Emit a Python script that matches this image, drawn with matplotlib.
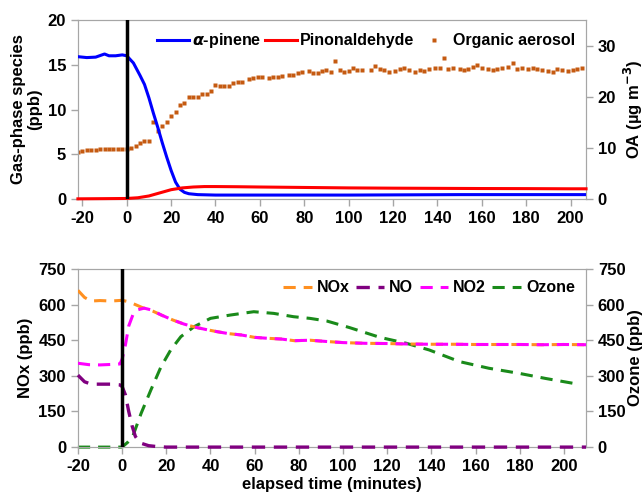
import numpy as np
import matplotlib
matplotlib.use("Agg")
import matplotlib.pyplot as plt

plt.rcParams['font.family'] = ['Liberation Sans', 'DejaVu Sans']
plt.rcParams['font.weight'] = 'bold'
plt.rcParams['axes.labelweight'] = 'bold'
plt.rcParams['axes.unicode_minus'] = False
plt.rcParams['mathtext.fontset'] = 'dejavusans'

# top panel: gas-phase species (ppb)
pin_t = [-22, -18, -14, -10, -8, -5, -2, 0, 3, 6, 8, 10, 12, 14, 16, 18, 20, 22, 24, 26, 28, 32, 40, 60, 100, 150, 200, 207]
pin_v = [15.9, 15.8, 15.85, 16.2, 16.0, 16.0, 16.1, 16.0, 15.2, 13.8, 12.8, 11.3, 9.6, 8.0, 6.3, 4.7, 3.2, 1.9, 1.1, 0.75,
         0.6, 0.5, 0.45, 0.45, 0.45, 0.5, 0.5, 0.5]

ald_t = [-22, -10, 0, 5, 10, 15, 20, 25, 30, 35, 40, 50, 60, 80, 100, 120, 140, 160, 180, 200, 207]
ald_v = [0.03, 0.05, 0.07, 0.15, 0.35, 0.7, 1.05, 1.25, 1.35, 1.4, 1.4, 1.38, 1.35, 1.3, 1.25, 1.22, 1.2, 1.18, 1.17,
         1.15, 1.15]

# organic aerosol (ug m-3), right axis
oa_t = [-22, -20, -18, -16, -14, -12, -10, -8, -6, -4, -2, 0, 2, 4, 6, 8, 10, 12, 14, 16, 18, 20, 22, 24, 26, 28, 30,
        32, 34, 36, 38, 40, 42, 44, 46, 48, 50, 52, 55, 57, 59, 61, 64, 66, 68, 70, 73, 75, 77, 79, 82, 84, 86, 88, 90,
        92, 94, 96, 98, 100, 102, 104, 106, 110, 112, 114, 116, 118, 121, 123, 125, 127, 130, 132, 134, 136, 139, 141,
        143, 145, 147, 150, 152, 154, 156, 158, 160, 163, 165, 167, 169, 172, 174, 176, 178, 181, 183, 185, 187, 190,
        192, 194, 196, 199, 201, 203, 205]
oa_v = [9.3, 9.4, 9.5, 9.5, 9.6, 9.7, 9.8, 9.8, 9.8, 9.8, 9.8, 9.8, 10.0, 10.4, 10.9, 11.3, 11.4, 15.1, 13.3, 14.3,
        15.1, 16.2, 17.1, 18.4, 18.8, 19.9, 20.0, 20.0, 20.5, 20.5, 21.2, 22.3, 22.0, 22.1, 22.1, 22.6, 22.8, 22.9,
        23.4, 23.7, 23.9, 23.9, 23.6, 23.8, 23.9, 24.1, 24.3, 24.2, 24.6, 24.8, 25.1, 24.6, 24.6, 25.0, 25.2, 24.8,
        27.0, 25.2, 24.8, 25.0, 25.6, 25.2, 25.2, 25.2, 26.1, 25.4, 25.2, 24.9, 25.0, 25.4, 25.6, 25.2, 24.9, 25.2,
        25.0, 25.4, 25.6, 25.7, 27.5, 25.4, 25.6, 25.4, 25.2, 25.4, 25.9, 26.2, 25.6, 25.4, 25.2, 25.4, 25.6, 25.8,
        26.5, 25.4, 25.6, 25.4, 25.6, 25.4, 25.2, 25.0, 24.8, 25.4, 25.2, 25.0, 25.2, 25.4, 25.6]

# bottom panel (ppb)
nox_t = [-20, -17, -14, -10, -5, 0, 3, 6, 9, 14, 18, 23, 28, 33, 38, 43, 48, 54, 60, 66, 72, 78, 85, 92, 100, 110,
         120, 130, 140, 150, 160, 170, 180, 190, 200, 210]
nox_v = [660, 630, 615, 617, 615, 618, 612, 600, 588, 572, 555, 535, 518, 505, 495, 486, 478, 472, 462, 458, 455, 448,
         450, 445, 440, 437, 436, 434, 433, 433, 432, 432, 432, 431, 432, 431]

no2_t = [-20, -15, -10, -5, -1, 0, 1.5, 3, 5, 7, 10, 13, 18, 23, 28, 33, 38, 43, 48, 54, 60, 66, 72, 78, 85, 92, 100,
         110, 120, 130, 140, 150, 160, 170, 180, 190, 200, 210]
no2_v = [353, 347, 346, 348, 350, 370, 430, 510, 560, 578, 585, 578, 555, 535, 518, 505, 495, 486, 478, 472, 462, 458,
         455, 448, 450, 445, 440, 437, 436, 434, 433, 433, 432, 432, 432, 431, 432, 431]

no_t = [-20, -17, -14, -10, -5, -1, 0, 1.5, 3, 4.5, 6, 8, 12, 16, 20, 30, 60, 100, 150, 210]
no_v = [303, 275, 265, 265, 265, 262, 255, 220, 150, 90, 45, 18, 6, 2, 0, 0, 0, 0, 0, 0]

o3_t = [-20, -10, -1, 0, 2.5, 5, 8.6, 13, 17.6, 22, 26.6, 32.6, 40, 49, 59.6, 68.6, 77.6, 85, 92.6, 103, 116.7, 128.7,
        139, 152.7, 166, 180, 191.7, 204.5]
o3_v = [0, 0, 0, 0, 20, 50, 142, 240, 338, 409, 465, 507, 542, 556, 570, 563, 549, 542, 531, 503, 462, 437, 409, 360,
        332, 310, 289, 268]

gray = '#a6a6a6'
fig = plt.figure(figsize=(6.44, 4.99), dpi=100)
ax1 = fig.add_axes([0.121, 0.601, 0.789, 0.359])
ax2 = fig.add_axes([0.121, 0.104, 0.789, 0.357])


def style(ax, ax_r):
    for a in (ax, ax_r):
        for s in a.spines.values():
            s.set_color(gray)
        a.tick_params(colors=gray, labelcolor='black', labelsize=12, length=5, width=1)
        for lab in a.get_xticklabels() + a.get_yticklabels():
            lab.set_fontweight('bold')


# top
ax1r = ax1.twinx()
ax1.set_zorder(ax1r.get_zorder() + 1)
ax1.patch.set_visible(False)
l1, = ax1.plot(pin_t, pin_v, color='#0000ff', lw=2.2, label=r'$\alpha$-pinene', zorder=4)
l2, = ax1.plot(ald_t, ald_v, color='#ff0000', lw=2.2, label='Pinonaldehyde', clip_on=False, zorder=4)
l3, = ax1r.plot(oa_t, oa_v, 's', color='#c55a11', ms=2.8, mec='none', label='Organic aerosol')
ax1.axvline(0, color='black', lw=2.5, zorder=5)
ax1.set_xlim(-22, 207)
ax1.set_ylim(0, 20)
ax1.set_yticks([0, 5, 10, 15, 20])
ax1.set_xticks(np.arange(-20, 201, 20))
ax1r.set_ylim(0, 35)
ax1r.set_yticks([0, 10, 20, 30])
ax1.set_ylabel('Gas-phase species\n(ppb)', fontsize=12, linespacing=1.1)
ax1r.set_ylabel('OA (µg m$^{\\mathbf{-3}}$)', fontsize=12, labelpad=4)
style(ax1, ax1r)
ax1.legend(handles=[l1, l2, l3], loc='upper right', ncol=3, frameon=False, fontsize=11.5,
           handlelength=2.0, handletextpad=0.2, columnspacing=0.2, borderaxespad=0.3,
           bbox_to_anchor=(1.0, 1.0))

# bottom
ax2r = ax2.twinx()
ax2.set_zorder(ax2r.get_zorder() + 1)
ax2.patch.set_visible(False)
dash = (4, 2.6)
h1, = ax2.plot(nox_t, nox_v, color='#ff9020', lw=2.2, dashes=dash, label='NOx', zorder=4)
h2, = ax2.plot(no_t, no_v, color='#800080', lw=2.4, dashes=dash, label='NO', clip_on=False, zorder=4)
h3, = ax2.plot(no2_t, no2_v, color='#ff00ff', lw=2.2, dashes=dash, label='NO2', zorder=4)
h4, = ax2r.plot(o3_t, o3_v, color='#1a8a1a', lw=2.2, dashes=dash, label='Ozone', clip_on=False, zorder=4)
ax2.axvline(0, color='black', lw=2.5, zorder=5)
ax2.set_xlim(-20, 210)
ax2.set_xticks(np.arange(-20, 201, 20))
ax2.set_ylim(0, 750)
ax2.set_yticks(np.arange(0, 751, 150))
ax2r.set_ylim(0, 750)
ax2r.set_yticks(np.arange(0, 751, 150))
ax2.set_ylabel('NOx (ppb)', fontsize=12)
ax2r.set_ylabel('Ozone (ppb)', fontsize=12, labelpad=2)
ax2.set_xlabel('elapsed time (minutes)', fontsize=12, labelpad=2)
style(ax2, ax2r)
ax2.legend(handles=[h1, h2, h3, h4], loc='upper right', ncol=4, frameon=False, fontsize=11.5,
           handlelength=1.8, handletextpad=0.3, columnspacing=0.4, borderaxespad=0.3)

fig.savefig('out.png', dpi=100)
